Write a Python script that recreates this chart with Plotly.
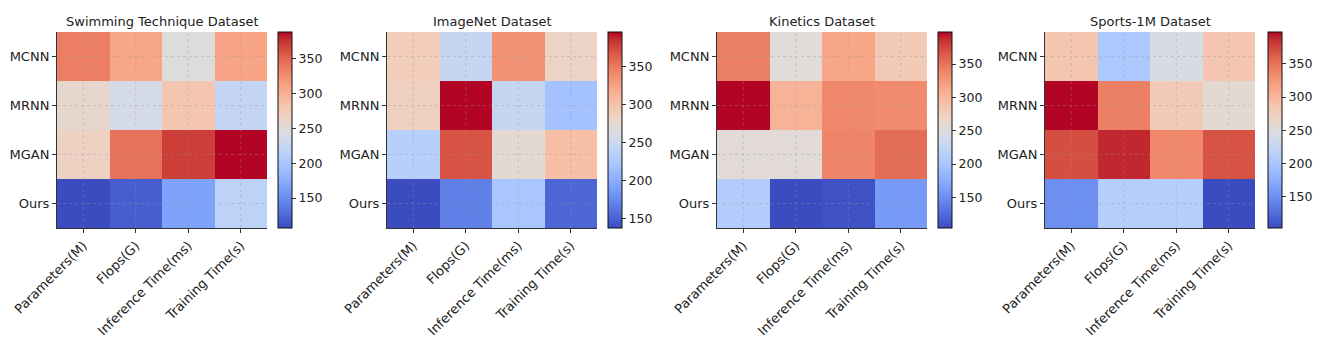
import plotly.graph_objects as go

metrics = ["Parameters(M)", "Flops(G)", "Inference Time(ms)", "Training Time(s)"]
models = ["MCNN", "MRNN", "MGAN", "Ours"]
titles = ["Swimming Technique Dataset", "ImageNet Dataset", "Kinetics Dataset", "Sports-1M Dataset"]

swimming = [
    [335, 309, 249, 310],
    [259, 239, 280, 222],
    [267, 343, 370, 388],
    [107, 118, 166, 216],
]
imagenet = [
    [290, 245, 336, 282],
    [287, 396, 245, 218],
    [233, 370, 274, 303],
    [137, 168, 222, 152],
]
kinetics = [
    [342, 253, 315, 280],
    [398, 304, 336, 335],
    [256, 256, 339, 354],
    [209, 104, 108, 159],
]
sports = [
    [286, 203, 242, 286],
    [398, 342, 280, 259],
    [371, 389, 336, 369],
    [150, 212, 212, 103],
]
datasets = [swimming, imagenet, kinetics, sports]

coolwarm_rgb = [
    (59, 76, 192), (68, 90, 204), (77, 104, 215), (87, 117, 225), (98, 130, 234),
    (108, 142, 241), (119, 154, 247), (130, 165, 251), (141, 176, 254), (152, 185, 255),
    (163, 194, 255), (174, 201, 253), (184, 208, 249), (194, 213, 244), (204, 217, 238),
    (213, 219, 230), (221, 221, 221), (229, 216, 209), (236, 211, 197), (241, 204, 185),
    (245, 196, 173), (247, 187, 160), (247, 177, 148), (247, 166, 135), (244, 154, 123),
    (241, 141, 111), (236, 127, 99), (229, 112, 88), (222, 96, 77), (213, 80, 66),
    (203, 62, 56), (192, 40, 47), (180, 4, 38),
]
n = len(coolwarm_rgb) - 1
coolwarm = [[i / n, "rgb(%d,%d,%d)" % c] for i, c in enumerate(coolwarm_rgb)]

# page body has an 8px margin, so the figure is laid out 8px smaller/offset
OFF = 8
W, H = 1325 - OFF, 342 - OFF
heat_left = [57 - OFF, 387 - OFF, 717 - OFF, 1045 - OFF]
heat_w = 210
cbar_left = [278 - OFF, 608 - OFF, 938 - OFF, 1268 - OFF]
top_px, bot_px = 32 - OFF, 228 - OFF

FONT = "DejaVu Sans"
TXT = "#222222"

fig = go.Figure()
shapes = []
annotations = []
for i, (data, title) in enumerate(zip(datasets, titles)):
    k = "" if i == 0 else str(i + 1)
    xa, ya = "x" + k, "y" + k
    fig.add_trace(go.Heatmap(
        z=data, x=metrics, y=models, colorscale=coolwarm,
        xaxis=xa, yaxis=ya, xgap=0, ygap=0,
        colorbar=dict(
            x=cbar_left[i] / W, xanchor="left", xref="paper", xpad=0, ypad=0,
            y=1 - top_px / H, yanchor="top", len=bot_px - top_px, lenmode="pixels",
            thickness=14, thicknessmode="pixels",
            outlinecolor="#111111", outlinewidth=1,
            ticks="outside", ticklen=4, tickcolor="#333333", tickwidth=1,
            tick0=0, dtick=50,
            tickfont=dict(family=FONT, size=12.5, color=TXT),
        ),
    ))
    fig.layout["xaxis" + k] = dict(
        domain=[heat_left[i] / W, (heat_left[i] + heat_w) / W],
        anchor=ya, tickangle=-45, showgrid=False, zeroline=False,
        showline=True, linecolor="#333333", linewidth=1,
        ticks="outside", ticklen=4, tickcolor="#333333", automargin=False,
        tickfont=dict(family=FONT, size=13, color=TXT), mirror=False,
    )
    fig.layout["yaxis" + k] = dict(
        domain=[1 - bot_px / H, 1 - top_px / H],
        anchor=xa, autorange="reversed", showgrid=False, zeroline=False,
        showline=True, linecolor="#333333", linewidth=1,
        ticks="outside", ticklen=4, tickcolor="#333333", automargin=False,
        tickfont=dict(family=FONT, size=13, color=TXT),
    )
    for m in metrics:
        shapes.append(dict(type="line", xref=xa, yref=ya + " domain", x0=m, x1=m, y0=0, y1=1,
                           line=dict(color="rgba(150,150,150,0.45)", width=0.8, dash="dot"), layer="above"))
    for r in models:
        shapes.append(dict(type="line", xref=xa + " domain", yref=ya, x0=0, x1=1, y0=r, y1=r,
                           line=dict(color="rgba(150,150,150,0.45)", width=0.8, dash="dot"), layer="above"))
    annotations.append(dict(
        text=title, xref="paper", yref="paper",
        x=(heat_left[i] + heat_w / 2) / W, y=1 - (21 - OFF) / H,
        xanchor="center", yanchor="middle", showarrow=False,
        font=dict(family=FONT, size=13, color=TXT),
    ))

fig.update_layout(
    width=W, height=H, margin=dict(l=0, r=0, t=0, b=0, autoexpand=False),
    paper_bgcolor="white", plot_bgcolor="white",
    shapes=shapes, annotations=annotations,
    font=dict(family=FONT, color=TXT),
)

fig.write_html("out.html")
